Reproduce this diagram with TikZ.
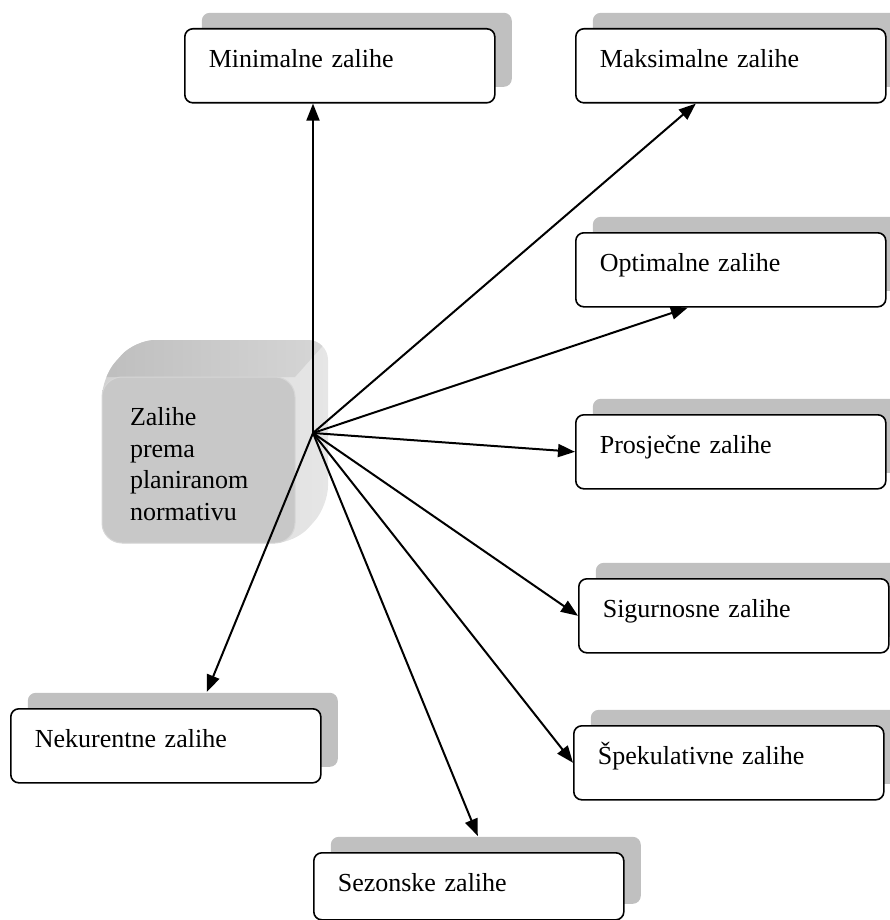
\documentclass[tikz,border=0pt]{standalone}
\usepackage{fontspec}
\setmainfont{Liberation Serif}
\usetikzlibrary{arrows.meta,shadows}

\definecolor{shadowgray}{HTML}{C0C0C0}
\definecolor{facegray}{HTML}{C8C8C8}
\definecolor{edgegray}{HTML}{D6D6D6}
\definecolor{sidelight}{HTML}{E6E6E6}
\definecolor{sidedark}{HTML}{D2D2D2}
\definecolor{topmid}{HTML}{A0A0A0}
\definecolor{topleft}{HTML}{BEBEBE}
\definecolor{topright}{HTML}{D6D6D6}

\begin{document}
\begin{tikzpicture}[x=1pt, y=-1pt,
  every node/.style={font=\fontsize{26}{31.7}\selectfont},
  zbox/.style={draw, line width=1.6pt, rounded corners=8pt, fill=white,
    text width=262pt, align=left, inner xsep=24pt, inner ysep=0pt,
    text height=39pt, text depth=35pt, anchor=north west,
    copy shadow={shadow xshift=17pt, shadow yshift=16pt, draw=none, fill=shadowgray}},
  arr/.style={-{Triangle[length=17pt,width=13pt]}, line width=2pt}]

\useasboundingbox (0,0) rectangle (889,920);

% ---- central box (extruded) ----
\shade[left color=sidedark, right color=sidelight, rounded corners=20pt]
  (102,543) -- (102,377) -- (135,340) -- (328,340) -- (328,506) -- (295,543) -- cycle;
\begin{scope}
  \clip (60,400) -- (102,400) -- (102,377) -- (295,377) -- (344.5,321.5) -- (60,321.5) -- cycle;
  \shade[left color=topleft, middle color=topmid, right color=topright, rounded corners=20pt]
    (102,543) -- (102,377) -- (135,340) -- (328,340) -- (328,506) -- (295,543) -- cycle;
\end{scope}
\node[draw=edgegray, line width=1pt, fill=facegray, rounded corners=20pt,
  minimum width=193pt, minimum height=166pt, text width=137pt, align=left,
  inner xsep=28pt, inner ysep=0pt] (plan) at (198.5,460)
  {\rule{0pt}{26pt}Zalihe\\ prema\\ planiranom\\ normativu};
\coordinate (hub) at (313,433);

% ---- target boxes ----
\node[zbox] (min) at (184,28) {Minimalne zalihe};
\node[zbox] (maks) at (575,28) {Maksimalne zalihe};
\node[zbox] (opt) at (575,232) {Optimalne zalihe};
\node[zbox] (pros) at (575,414) {Prosječne zalihe};
\node[zbox] (sig) at (578,578) {Sigurnosne zalihe};
\node[zbox] (spek) at (573,725) {Špekulativne zalihe};
\node[zbox] (nek) at (10,708) {Nekurentne zalihe};
\node[zbox, text depth=28pt] (sez) at (313,852) {Sezonske zalihe};

% ---- arrows ----
\draw[arr] (hub) -- (hub |- min.south);
\draw[arr] (hub) -- ([xshift=-35pt]maks.south);
\draw[arr] (hub) -- ([xshift=-43pt]opt.south);
\draw[arr] (hub) -- (pros.west);
\draw[arr] (hub) -- (sig.west);
\draw[arr] (hub) -- (spek.west);
\draw[arr] (hub) -- ([xshift=9pt,yshift=16pt]sez.north);
\draw[arr] (hub) -- ([xshift=41pt,yshift=16pt]nek.north);

\end{tikzpicture}
\end{document}
